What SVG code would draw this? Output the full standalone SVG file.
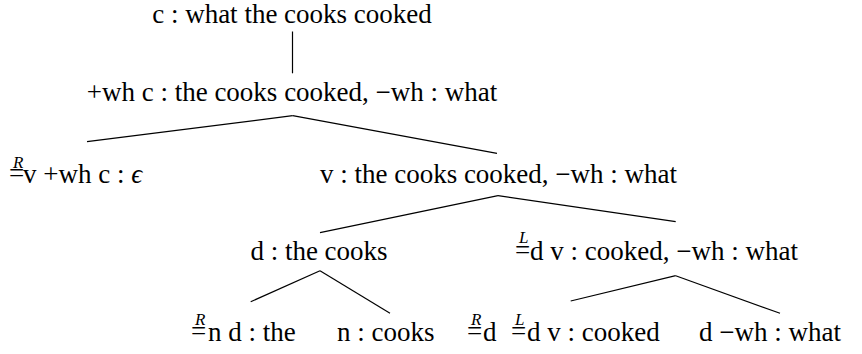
<svg xmlns="http://www.w3.org/2000/svg" width="862" height="354" viewBox="0 0 862 354">
<style>
text{fill:#000}
.m{text-anchor:middle}
.e{stroke:#000;stroke-width:1.2;fill:none}
</style>
<rect width="862" height="354" fill="#fff"/>
<g id="connectors" class="e">
<line x1="292.5" y1="31.5" x2="292.5" y2="73.3"/>
<line x1="292.7" y1="115.7" x2="87" y2="141.7"/>
<line x1="292.7" y1="115.7" x2="497" y2="153.3"/>
<line x1="498" y1="195.7" x2="320" y2="232.7"/>
<line x1="498" y1="195.7" x2="675.7" y2="221.7"/>
<line x1="320" y1="270.7" x2="250.7" y2="301.7"/>
<line x1="320" y1="270.7" x2="390" y2="313.3"/>
<line x1="675.7" y1="275.7" x2="570.7" y2="301"/>
<line x1="675.7" y1="275.7" x2="780" y2="313.3"/>
</g>
<g id="node-root">
<text class="m" x="292" y="23" font-family="Liberation Serif" font-size="27">c : what the cooks cooked</text>
</g>
<g id="node-wh">
<text class="m" x="292" y="101" font-family="Liberation Serif" font-size="27">+wh c : the cooks cooked, −wh : what</text>
</g>
<g id="node-veps">
<text x="9" y="182" font-family="Liberation Serif" font-size="27">=<tspan font-style="italic" font-size="17" x="13" dy="-14">R</tspan><tspan x="23" dy="15">v +wh c : <tspan font-style="italic">ϵ</tspan></tspan></text>
</g>
<g id="node-v">
<text class="m" x="498.5" y="183" font-family="Liberation Serif" font-size="27">v : the cooks cooked, −wh : what</text>
</g>
<g id="node-d">
<text class="m" x="319" y="260" font-family="Liberation Serif" font-size="27">d : the cooks</text>
</g>
<g id="node-ldv">
<text x="515" y="259" font-family="Liberation Serif" font-size="27">=<tspan font-style="italic" font-size="17" x="519" dy="-16">L</tspan><tspan x="530" dy="17">d v : cooked, −wh : what</tspan></text>
</g>
<g id="node-rnd">
<text x="191" y="340" font-family="Liberation Serif" font-size="27">=<tspan font-style="italic" font-size="17" x="195" dy="-15">R</tspan><tspan x="208" dy="16">n d : the</tspan></text>
</g>
<g id="node-n">
<text x="337" y="341" font-family="Liberation Serif" font-size="27">n : cooks</text>
</g>
<g id="node-rdldv">
<text x="467" y="340" font-family="Liberation Serif" font-size="27">=<tspan font-style="italic" font-size="17" x="471" dy="-15">R</tspan><tspan x="483" dy="16">d</tspan><tspan x="511" dy="-1">=</tspan><tspan font-style="italic" font-size="17" x="515" dy="-15">L</tspan><tspan x="527" dy="16">d v : cooked</tspan></text>
</g>
<g id="node-dwh">
<text x="699" y="341" font-family="Liberation Serif" font-size="27">d −wh : what</text>
</g>
</svg>
